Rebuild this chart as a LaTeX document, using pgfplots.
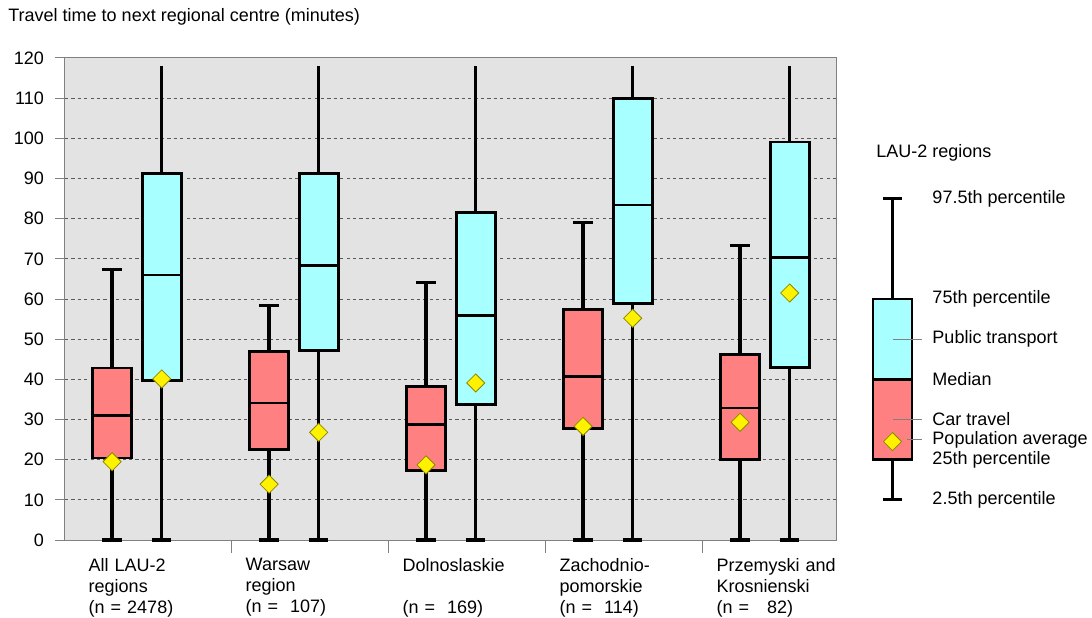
\documentclass[border=0pt]{standalone}
\usepackage{pgfplots}
\pgfplotsset{compat=1.18}
\usepgfplotslibrary{statistics}
\usepackage{fontspec}
\setmainfont{Liberation Sans}
\definecolor{carfill}{HTML}{FF8080}
\definecolor{ptfill}{HTML}{A8FFFF}
\definecolor{bggray}{HTML}{E3E3E3}
\definecolor{gridgray}{HTML}{5A5A5A}
\definecolor{axgray}{HTML}{808080}
\definecolor{diamedge}{HTML}{8A8A00}
\pgfplotsset{
  lowwhisk/.style={
    boxplot/draw/lower whisker/.code={%
      \draw[black, line width=1.6pt]
        (boxplot cs:\pgfplotsboxplotvalue{lower whisker})
        -- (boxplot cs:\pgfplotsboxplotvalue{lower quartile})
        (boxplot whisker cs:\pgfplotsboxplotvalue{lower whisker},0)
        -- (boxplot whisker cs:\pgfplotsboxplotvalue{lower whisker},1);
    }},
  upwhisk/.style={
    boxplot/draw/upper whisker/.code={%
      \draw[black, line width=1.6pt]
        (boxplot cs:\pgfplotsboxplotvalue{upper quartile})
        -- (boxplot cs:\pgfplotsboxplotvalue{upper whisker})
        (boxplot whisker cs:\pgfplotsboxplotvalue{upper whisker},0)
        -- (boxplot whisker cs:\pgfplotsboxplotvalue{upper whisker},1);
    }},
  upwhisknocap/.style={
    boxplot/draw/upper whisker/.code={%
      \draw[black, line width=1.5pt]
        (boxplot cs:\pgfplotsboxplotvalue{upper quartile})
        -- (boxplot cs:\pgfplotsboxplotvalue{upper whisker});
    }},
}
\begin{document}
\begin{tikzpicture}
\useasboundingbox (0,0) rectangle (546pt,308.5pt);
\node[anchor=west, font=\fontsize{9}{10.5}\selectfont, inner sep=0pt] at (4pt,300pt) {Travel time to next regional centre (minutes)};
\begin{axis}[
  at={(32.5pt,38.5pt)}, anchor=south west,
  scale only axis, width=385.5pt, height=241pt,
  xmin=-0.562, xmax=4.349, ymin=0, ymax=120,
  clip=false,
  axis background/.style={fill=bggray},
  axis line style={axgray, line width=0.5pt},
  ytick={0,10,...,120},
  xtick={0,1,2,3,4},
  xticklabels={{All LAU-2\\regions\\(n = 2478)},{Warsaw\\region\\(n = \ 107)},{Dolnoslaskie\\\strut\\(n = \ 169)},{Zachodnio-\\pomorskie\\(n = \ 114)},{Przemyski and\\Krosnienski\\(n = \ \ 82)}},
  minor xtick={0.5,1.5,2.5,3.5},
  xtick pos=left, ytick pos=left,
  tick align=outside,
  major tick length=5pt,
  minor tick length=6.5pt,
  every major x tick/.style={draw=none},
  every minor x tick/.style={axgray, line width=0.5pt},
  every major y tick/.style={axgray, line width=0.5pt},
  ymajorgrids,
  major grid style={gridgray, line width=0.5pt, dash pattern=on 1.6pt off 1.6pt},
  /pgf/number format/assume math mode=true,
  ticklabel style={font=\fontsize{9}{10.5}\selectfont},
  xticklabel style={align=left, text width=64.5pt, anchor=north, yshift=-0.5pt},
  yticklabel style={xshift=-2pt},
  boxplot/draw direction=y,
  boxplot/box extend=0.248,
  boxplot/whisker extend=0.124,
  boxplot/every box/.style={line width=1.35pt, line join=miter},
  boxplot/every median/.style={line width=1.35pt},
  ptbox/.style={draw=black, fill=ptfill, line width=1.35pt, lowwhisk, upwhisknocap},
  carbox/.style={draw=black, fill=carfill, line width=1.35pt, lowwhisk, upwhisk},
  meanmark/.style={only marks, mark=square*, mark size=3.2pt,
    mark options={rotate=45, fill=yellow, draw=diamedge, line width=0.4pt}},
]
% Car travel boxes
\addplot[carbox, boxplot prepared={draw position=-0.262, lower whisker=0, lower quartile=20.4, median=31.0, upper quartile=42.8, upper whisker=67.3}] coordinates {};
\addplot[carbox, boxplot prepared={draw position=0.738, lower whisker=0, lower quartile=22.6, median=34.1, upper quartile=47.0, upper whisker=58.4}] coordinates {};
\addplot[carbox, boxplot prepared={draw position=1.738, lower whisker=0, lower quartile=17.3, median=28.7, upper quartile=38.2, upper whisker=64.2}] coordinates {};
\addplot[carbox, boxplot prepared={draw position=2.738, lower whisker=0, lower quartile=27.8, median=40.7, upper quartile=57.3, upper whisker=79.1}] coordinates {};
\addplot[carbox, boxplot prepared={draw position=3.738, lower whisker=0, lower quartile=20.1, median=32.9, upper quartile=46.1, upper whisker=73.3}] coordinates {};
% Public transport boxes
\addplot[ptbox, boxplot prepared={draw position=0.054, lower whisker=0, lower quartile=39.7, median=66.0, upper quartile=91.3, upper whisker=118}] coordinates {};
\addplot[ptbox, boxplot prepared={draw position=1.054, lower whisker=0, lower quartile=47.2, median=68.4, upper quartile=91.3, upper whisker=118}] coordinates {};
\addplot[ptbox, boxplot prepared={draw position=2.054, lower whisker=0, lower quartile=33.7, median=55.9, upper quartile=81.5, upper whisker=118}] coordinates {};
\addplot[ptbox, boxplot prepared={draw position=3.054, lower whisker=0, lower quartile=58.9, median=83.4, upper quartile=109.9, upper whisker=118}] coordinates {};
\addplot[ptbox, boxplot prepared={draw position=4.054, lower whisker=0, lower quartile=43.0, median=70.4, upper quartile=99.1, upper whisker=118}] coordinates {};
% Population averages
\addplot[meanmark] coordinates {(-0.262,19.5) (0.738,13.9) (1.738,18.7) (2.738,28.3) (3.738,29.3)};
\addplot[meanmark] coordinates {(0.054,40.1) (1.054,26.8) (2.054,39.1) (3.054,55.2) (4.054,61.5)};
% Legend (drawn in the same value scale)
\addplot[draw=black, fill=ptfill, line width=1.35pt, lowwhisk, upwhisk, boxplot prepared={draw position=4.709, lower whisker=10, lower quartile=20, median=40, upper quartile=60, upper whisker=85}] coordinates {};
\addplot[draw=black, fill=carfill, line width=1.35pt, boxplot/whisker extend=0, boxplot prepared={draw position=4.709, lower whisker=20, lower quartile=20, median=40, upper quartile=40, upper whisker=40}] coordinates {};
\addplot[axgray, line width=0.5pt] coordinates {(4.711,50) (4.896,50)};
\addplot[axgray, line width=0.5pt] coordinates {(4.711,30) (4.896,30)};
\addplot[axgray, line width=0.5pt] coordinates {(4.80,25) (4.896,25)};
\addplot[meanmark] coordinates {(4.709,24.5)};
\begin{scope}[every node/.style={anchor=west, font=\fontsize{9}{10.5}\selectfont, inner sep=0pt}]
\node at (axis cs:4.604,96.5) {LAU-2 regions};
\node at (axis cs:4.961,85) {97.5th percentile};
\node at (axis cs:4.961,60) {75th percentile};
\node at (axis cs:4.961,50) {Public transport};
\node at (axis cs:4.961,40) {Median};
\node at (axis cs:4.961,30) {Car travel};
\node at (axis cs:4.961,25) {Population average};
\node at (axis cs:4.961,20) {25th percentile};
\node at (axis cs:4.961,10) {2.5th percentile};
\end{scope}
\end{axis}
\end{tikzpicture}
\end{document}
